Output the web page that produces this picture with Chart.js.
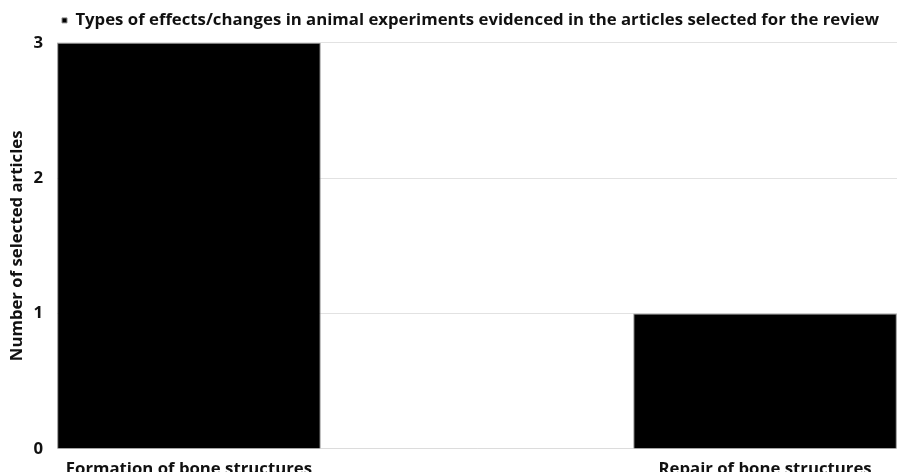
<!DOCTYPE html>
<html>
<head>
<meta charset="utf-8">
<script src="https://cdn.jsdelivr.net/npm/chart.js@4/dist/chart.umd.min.js"></script>
<style>
  html, body { margin: 0; padding: 0; background: #fff; overflow: hidden; }
  #wrap { width: 897px; height: 472px; overflow: hidden; }
</style>
</head>
<body>
<div id="wrap"><canvas id="chart" width="897" height="481"></canvas></div>
<script>
var seriesLabel = 'Types of effects/changes in animal experiments evidenced in the articles selected for the review';
var categories  = ['Formation of bone structures', 'Repair of bone structures'];
var articles    = [3, 1];
var yTicks      = [0, 1, 2, 3];

Chart.defaults.font.family = '"Open Sans", sans-serif';
Chart.defaults.font.weight = 'bold';
Chart.defaults.color = '#111';

var fontSize = 16.75;

// a bit more room between the legend row and the plot
var legendGap = {
    id: 'legendGap',
    beforeLayout: function(chart) {
        var lg = chart.legend;
        if (!lg || lg._gapPatched) return;
        var fit = lg.fit;
        lg.fit = function() { fit.call(this); this.height += 4; };
        lg._gapPatched = true;
    }
};

new Chart(document.getElementById('chart').getContext('2d'), {
    type: 'bar',
    data: {
        datasets: [{
            label: seriesLabel,
            data: categories.map(function(c, i) { return { x: i, y: articles[i] }; }),
            backgroundColor: '#000',
            borderColor: '#8a8a8a',
            borderWidth: 1,
            categoryPercentage: 1,
            barPercentage: 0.4575
        }]
    },
    options: {
        responsive: false,
        animation: false,
        devicePixelRatio: 1,
        layout: { padding: { left: 7, right: 0, top: 7, bottom: 0 } },
        plugins: {
            legend: {
                display: true,
                position: 'top',
                align: 'start',
                fullSize: false,
                labels: {
                    usePointStyle: true,
                    pointStyle: 'rect',
                    boxWidth: 5,
                    boxHeight: 5,
                    padding: 5,
                    font: { size: fontSize, weight: 'bold' },
                    color: '#111'
                }
            },
            tooltip: { enabled: false }
        },
        scales: {
            x: {
                type: 'linear',
                offset: false,
                min: -0.229,
                max: 1.229,
                afterBuildTicks: function(axis) {
                    axis.ticks = categories.map(function(c, i) { return { value: i }; });
                },
                grid: { display: false },
                border: { display: true, color: '#dcdcdc' },
                ticks: {
                    padding: 2,
                    maxRotation: 0,
                    autoSkip: false,
                    font: { size: fontSize, weight: 'bold' },
                    callback: function(v) { return categories[v]; }
                }
            },
            y: {
                min: 0,
                max: 3,
                afterBuildTicks: function(axis) {
                    axis.ticks = yTicks.map(function(v) { return { value: v }; });
                },
                afterFit: function(axis) { axis.width = 50; },
                grid: { color: '#e2e2e2', drawTicks: false },
                border: { display: false },
                ticks: {
                    padding: 14,
                    font: { size: fontSize, weight: 'bold' }
                },
                title: {
                    display: true,
                    text: 'Number of selected articles',
                    font: { size: fontSize, weight: 'bold' },
                    padding: { top: 0, bottom: 4 }
                }
            }
        }
    },
    plugins: [legendGap]
});
</script>
</body>
</html>
